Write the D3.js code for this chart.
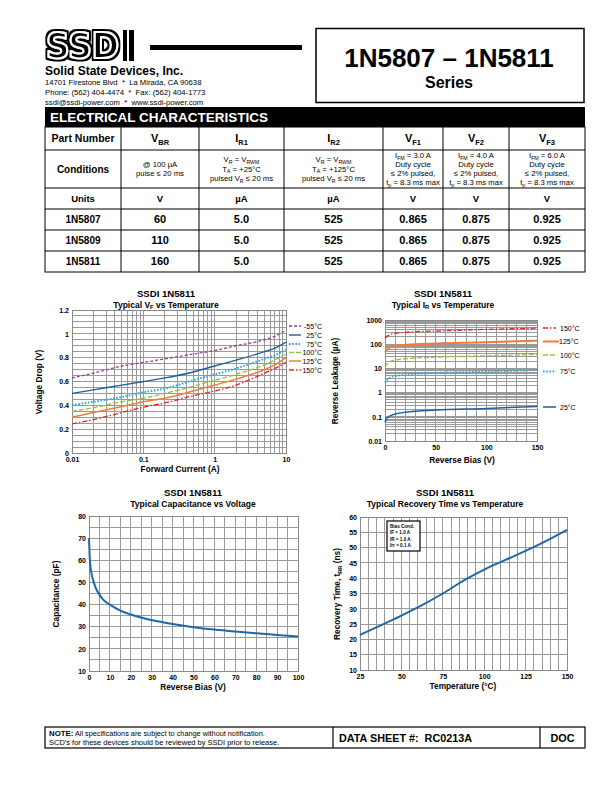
<!DOCTYPE html>
<html><head><meta charset="utf-8">
<script src="https://cdn.jsdelivr.net/npm/d3@7"></script>
<style>body{margin:0;background:#fff}svg{display:block;font-family:"Liberation Sans",Arial,Helvetica,sans-serif}</style>
</head><body><svg id="page" width="612" height="792"></svg>
<script>
// ================= DATA =================
const headerLabels = ["Part Number","V_{BR}","I_{R1}","I_{R2}","V_{F1}","V_{F2}","V_{F3}"];
const conditionLines = [
  ["Conditions"],
  ["@ 100 µA","pulse ≤ 20 ms"],
  ["V_{R} = V_{RWM}","T_{A} = +25°C","pulsed V_{R} ≤ 20 ms"],
  ["V_{R} = V_{RWM}","T_{A} = +125°C","pulsed V_{R} ≤ 20 ms"],
  ["I_{FM} = 3.0 A","Duty cycle","≤ 2% pulsed,","t_{p} = 8.3 ms max"],
  ["I_{FM} = 4.0 A","Duty cycle","≤ 2% pulsed,","t_{p} = 8.3 ms max"],
  ["I_{FM} = 6.0 A","Duty cycle","≤ 2% pulsed,","t_{p} = 8.3 ms max"]
];
const unitLabels = ["Units","V","µA","µA","V","V","V"];
const partNumbers = ["1N5807","1N5809","1N5811"];
const vbrValues = ["60","110","160"];
const ir1Values = ["5.0","5.0","5.0"];
const ir2Values = ["525","525","525"];
const vf1Values = ["0.865","0.865","0.865"];
const vf2Values = ["0.875","0.875","0.875"];
const vf3Values = ["0.925","0.925","0.925"];

// Chart 1: Typical VF vs Temperature
const vfCurrent = [0.01,0.02,0.05,0.1,0.2,0.5,1,2,5,7,10];
const vfM55  = [0.63,0.67,0.73,0.76,0.79,0.83,0.86,0.90,0.95,0.98,1.03];
const vf25   = [0.50,0.53,0.57,0.60,0.63,0.68,0.73,0.78,0.85,0.88,0.93];
const vf75   = [0.40,0.43,0.47,0.51,0.54,0.61,0.66,0.71,0.79,0.82,0.87];
const vf100  = [0.35,0.38,0.43,0.46,0.50,0.56,0.61,0.66,0.74,0.78,0.83];
const vf125  = [0.30,0.34,0.39,0.43,0.46,0.52,0.57,0.62,0.70,0.74,0.80];
const vf150  = [0.245,0.28,0.34,0.385,0.42,0.48,0.52,0.57,0.67,0.71,0.76];
const vfXTicks = [0.01,0.1,1,10];
const vfYTicks = [0,0.2,0.4,0.6,0.8,1,1.2];
const vfLegend = ["-55°C","25°C","75°C","100°C","125°C","150°C"];

// Chart 2: Typical IR vs Temperature
const irBias = [0,2,5,10,20,50,100,150];
const ir150 = [180,210,250,280,310,350,410,460];
const ir125 = [45,60,75,85,95,108,120,140];
const ir100 = [11,15,19,22,25,29,33,38];
const ir75  = [2.5,3.3,4.2,4.8,5.4,6.5,7.3,8.5];
const ir25  = [0.06,0.09,0.11,0.13,0.155,0.19,0.22,0.27];
const irXTicks = [0,50,100,150];
const irYTicks = [0.01,0.1,1,10,100,1000];
const irLegend = ["150°C","125°C","100°C","75°C","25°C"];

// Chart 3: Typical Capacitance vs Voltage
const capBias = [0,0.3,0.7,1,2,3,5,7,10,15,20,30,40,50,60,70,80,90,100];
const capValues = [70,62,57,55,51,48,44.5,42,40,37.3,35.5,33,31.2,29.8,28.7,27.8,27,26.3,25.6];
const capXTicks = [0,10,20,30,40,50,60,70,80,90,100];
const capYTicks = [10,20,30,40,50,60,70,80];

// Chart 4: Typical Recovery Time vs Temperature
const trrTemp = [25,37.5,50,62.5,75,87.5,100,112.5,125,137.5,150];
const trrValues = [21.5,24.6,27.8,31.2,35,39.2,42.8,45.9,48.9,52.2,55.8];
const trrXTicks = [25,50,75,100,125,150];
const trrYTicks = [10,15,20,25,30,35,40,45,50,55,60];
const biasCond = ["Bias Cond.","IF = 1.0 A","IR = 1.0 A","Irr = 0.1 A"];

// ================= DRAWING =================
const svg = d3.select("#page");

function rich(textSel, str, fs) {
  const parts = str.split(/(_\{[^}]*\})/).filter(s => s.length);
  let shifted = false;
  parts.forEach(p => {
    const sub = p.startsWith("_{");
    const ts = textSel.append("tspan").text(sub ? p.slice(2, -1) : p);
    if (sub) { ts.attr("font-size", fs * 0.68); if (!shifted) { ts.attr("dy", fs * 0.22); shifted = true; } }
    else { ts.attr("font-size", fs); if (shifted) { ts.attr("dy", -fs * 0.22); shifted = false; } }
  });
}

// ---- Header / logo ----
const defs = svg.append("defs");
const flt = defs.append("filter").attr("id","logoRing").attr("x","-10%").attr("y","-20%").attr("width","120%").attr("height","140%");
flt.append("feMorphology").attr("in","SourceAlpha").attr("operator","dilate").attr("radius",1.8).attr("result","dil");
flt.append("feFlood").attr("flood-color","#000").attr("result","blk");
flt.append("feComposite").attr("in","blk").attr("in2","dil").attr("operator","in").attr("result","ring");
const fm = flt.append("feMerge");
fm.append("feMergeNode").attr("in","ring");
fm.append("feMergeNode").attr("in","SourceGraphic");
svg.append("text").attr("x",46).attr("y",57.5).attr("font-family","DejaVu Sans").attr("font-weight","bold")
  .attr("font-size",35).attr("textLength",73).attr("lengthAdjust","spacingAndGlyphs")
  .attr("fill","#000").attr("stroke","#fff").attr("stroke-width",2.2).attr("stroke-linejoin","round")
  .attr("filter","url(#logoRing)").text("SSD");
svg.append("rect").attr("x",123).attr("y",30).attr("width",4).attr("height",31).attr("fill","#000");
svg.append("rect").attr("x",129).attr("y",30).attr("width",5).attr("height",31).attr("fill","#000");
svg.append("rect").attr("x",150).attr("y",45).attr("width",152).attr("height",5).attr("fill","#000");
svg.append("text").attr("x",45).attr("y",75).attr("font-size",12).attr("font-weight","bold").text("Solid State Devices, Inc.");
["14701 Firestone Blvd  *  La Mirada, CA 90638","Phone: (562) 404-4474  *  Fax: (562) 404-1773","ssdi@ssdi-power.com  *  www.ssdi-power.com"]
  .forEach((t,i) => svg.append("text").attr("x",45).attr("y",84.5+i*10).attr("font-size",7.7).style("white-space","pre").text(t));

svg.append("rect").attr("x",316).attr("y",28.5).attr("width",268).attr("height",74).attr("fill","none").attr("stroke","#000").attr("stroke-width",1.5);
svg.append("text").attr("x",449).attr("y",67).attr("text-anchor","middle").attr("font-size",26).attr("font-weight","bold").text("1N5807 – 1N5811");
svg.append("text").attr("x",449).attr("y",88).attr("text-anchor","middle").attr("font-size",16).attr("font-weight","bold").text("Series");

// ---- Table ----
const colEdges = [45,121,199,284,383,443,509,585];
const rowEdges = [127,150,188,209,230,251,272];
svg.append("rect").attr("x",45).attr("y",107).attr("width",540).attr("height",20).attr("fill","#000");
svg.append("text").attr("x",50).attr("y",122).attr("fill","#fff").attr("font-size",13.5).attr("font-weight","bold").text("ELECTRICAL CHARACTERISTICS");
const tbl = svg.append("g").attr("stroke","#000").attr("stroke-width",1);
tbl.append("rect").attr("x",45).attr("y",127).attr("width",540).attr("height",145).attr("fill","none");
rowEdges.slice(1,-1).forEach(y => tbl.append("line").attr("x1",45).attr("x2",585).attr("y1",y).attr("y2",y));
colEdges.slice(1,-1).forEach(x => tbl.append("line").attr("x1",x).attr("x2",x).attr("y1",127).attr("y2",272));
const cx = i => (colEdges[i] + colEdges[i+1]) / 2;
const cy = r => (rowEdges[r] + rowEdges[r+1]) / 2;
headerLabels.forEach((h,i) => {
  const t = svg.append("text").attr("x",cx(i)).attr("y",cy(0)+3.8).attr("text-anchor","middle").attr("font-weight","bold");
  rich(t, h, i === 0 ? 10.5 : 11);
});
conditionLines.forEach((lines,i) => {
  const fs = i === 0 ? 10 : 7.7, lh = 9.2;
  lines.forEach((ln,k) => {
    const y = cy(1) - (lines.length-1)*lh/2 + k*lh + fs*0.35;
    const t = svg.append("text").attr("x",cx(i)).attr("y",y).attr("text-anchor","middle").attr("font-weight", i===0 ? "bold" : "normal");
    rich(t, ln, fs);
  });
});
unitLabels.forEach((u,i) => svg.append("text").attr("x",cx(i)).attr("y",cy(2)+3.3).attr("text-anchor","middle")
  .attr("font-size",9.5).attr("font-weight","bold").text(u));
const valueCols = [partNumbers, vbrValues, ir1Values, ir2Values, vf1Values, vf2Values, vf3Values];
valueCols.forEach((col,i) => col.forEach((v,r) => svg.append("text").attr("x",cx(i)).attr("y",cy(3+r)+3.8)
  .attr("text-anchor","middle").attr("font-size", i===0 ? 10 : 11).attr("font-weight","bold").text(v)));

// ---- generic chart helpers ----
function chartFrame(box, xs, ys, xGrid, yGrid) {
  const g = svg.append("g");
  g.append("rect").attr("x",box.l).attr("y",box.t).attr("width",box.r-box.l).attr("height",box.b-box.t).attr("fill","#fff");
  const gg = g.append("g").attr("stroke","#9a9a9a").attr("stroke-width",1).attr("shape-rendering","crispEdges");
  xGrid.forEach(v => gg.append("line").attr("x1",xs(v)).attr("x2",xs(v)).attr("y1",box.t).attr("y2",box.b));
  yGrid.forEach(v => gg.append("line").attr("y1",ys(v)).attr("y2",ys(v)).attr("x1",box.l).attr("x2",box.r));
  g.append("rect").attr("x",box.l).attr("y",box.t).attr("width",box.r-box.l).attr("height",box.b-box.t)
    .attr("fill","none").attr("stroke","#8a8a8a").attr("stroke-width",1).attr("shape-rendering","crispEdges");
  return g;
}
function axes(box, xs, ys, xTicks, yTicks, fmtX, fmtY) {
  const ax = svg.append("g").attr("transform",`translate(0,${box.b})`)
    .call(d3.axisBottom(xs).tickValues(xTicks).tickSize(0).tickPadding(4).tickFormat(fmtX));
  const ay = svg.append("g").attr("transform",`translate(${box.l},0)`)
    .call(d3.axisLeft(ys).tickValues(yTicks).tickSize(0).tickPadding(3).tickFormat(fmtY));
  [ax,ay].forEach(a => { a.select(".domain").remove();
    a.selectAll("text").attr("font-family","Liberation Sans, Arial, sans-serif").attr("font-size",7).attr("font-weight","bold").attr("fill","#000"); });
}
function titles(x, y, sub) {
  svg.append("text").attr("x",x).attr("y",y).attr("text-anchor","middle").attr("font-size",9.6).attr("font-weight","bold").text("SSDI 1N5811");
  const t = svg.append("text").attr("x",x).attr("y",y+10.5).attr("text-anchor","middle").attr("font-weight","bold");
  rich(t, sub, 8.5);
}
function axisLabels(xText, xx, xy, yText, yx, yy) {
  svg.append("text").attr("x",xx).attr("y",xy).attr("text-anchor","middle").attr("font-size",8.3).attr("font-weight","bold").text(xText);
  const t = svg.append("text").attr("transform",`translate(${yx},${yy}) rotate(-90)`).attr("text-anchor","middle").attr("font-weight","bold");
  rich(t, yText, 8.3);
}
function curve(xs, ys, xv, yv, color, width, dash, curveType) {
  svg.append("path").datum(xv.map((x,i) => [x, yv[i]]))
    .attr("d", d3.line().x(d => xs(d[0])).y(d => ys(d[1])).curve(curveType || d3.curveMonotoneX))
    .attr("fill","none").attr("stroke",color).attr("stroke-width",width).attr("stroke-dasharray",dash || null);
}

// ---- Chart 1 ----
const b1 = {l:72, r:286, t:310, b:453};
const x1 = d3.scaleLog().domain([0.01,10]).range([b1.l,b1.r]);
const y1 = d3.scaleLinear().domain([0,1.2]).range([b1.b,b1.t]);
chartFrame(b1, x1, y1, x1.ticks(), d3.range(0,1.2001,0.05));
axes(b1, x1, y1, vfXTicks, vfYTicks, d => String(d), d => String(d));
titles(166, 297, "Typical V_{F}  vs Temperature");
axisLabels("Forward Current (A)", 180, 472, "Voltage Drop (V)", 42, 382);
const vfStyles = [
  {v:vfM55, c:"#9c3d97", w:1.3, d:"3,2"},
  {v:vf25,  c:"#1e5f9c", w:1.4, d:null},
  {v:vf75,  c:"#29a9e1", w:2,   d:"1.6,1.6"},
  {v:vf100, c:"#8dc63f", w:1.3, d:"5,2"},
  {v:vf125, c:"#f47a3a", w:1.5, d:null},
  {v:vf150, c:"#e2232a", w:1.3, d:"5,2,1.5,2"}
];
vfStyles.forEach(s => curve(x1, y1, vfCurrent, s.v, s.c, s.w, s.d));
const leg1Y = [326,335,344,352.5,361,370];
vfStyles.forEach((s,i) => {
  svg.append("line").attr("x1",289).attr("x2",301).attr("y1",leg1Y[i]).attr("y2",leg1Y[i]).attr("stroke",s.c).attr("stroke-width",s.w).attr("stroke-dasharray",s.d);
  svg.append("text").attr("x",322).attr("y",leg1Y[i]+2.5).attr("text-anchor","end").attr("font-size",7).text(vfLegend[i]);
});

// ---- Chart 2 ----
const b2 = {l:385, r:537, t:320, b:441};
const x2 = d3.scaleLinear().domain([0,150]).range([b2.l,b2.r]);
const y2 = d3.scaleLog().domain([0.01,1000]).range([b2.b,b2.t]);
chartFrame(b2, x2, y2, d3.range(0,151,10), y2.ticks());
axes(b2, x2, y2, irXTicks, irYTicks, d => String(d), d => String(d));
titles(443, 297, "Typical I_{R} vs Temperature");
axisLabels("Reverse Bias (V)", 462, 463, "Reverse Leakage (µA)", 338, 381);
const irStyles = [
  {v:ir150, c:"#e2232a", w:1.3, d:"5,2,1.5,2"},
  {v:ir125, c:"#f47a3a", w:2,   d:null},
  {v:ir100, c:"#8dc63f", w:1.3, d:"5,2"},
  {v:ir75,  c:"#29a9e1", w:1.8, d:"1.6,1.6"},
  {v:ir25,  c:"#1e5f9c", w:1.5, d:null}
];
irStyles.forEach(s => curve(x2, y2, irBias, s.v, s.c, s.w, s.d));
const leg2Y = [328,341.5,355,371.5,407];
irStyles.forEach((s,i) => {
  svg.append("line").attr("x1",543).attr("x2",i===1?559:556).attr("y1",leg2Y[i]).attr("y2",leg2Y[i]).attr("stroke",s.c).attr("stroke-width",s.w).attr("stroke-dasharray",s.d);
  svg.append("text").attr("x",i===1?559:560).attr("y",leg2Y[i]+2.5).attr("font-size",7).text(irLegend[i]);
});

// ---- Chart 3 ----
const b3 = {l:89, r:298, t:516, b:671};
const x3 = d3.scaleLinear().domain([0,100]).range([b3.l,b3.r]);
const y3 = d3.scaleLinear().domain([10,80]).range([b3.b,b3.t]);
chartFrame(b3, x3, y3, d3.range(0,101,5), d3.range(10,81,5));
axes(b3, x3, y3, capXTicks, capYTicks, d => String(d), d => String(d));
titles(193, 496, "Typical Capacitance vs Voltage");
axisLabels("Reverse Bias (V)", 193, 690, "Capacitance (pF)", 59, 594);
curve(x3, y3, capBias, capValues, "#1f68a8", 2, null);

// ---- Chart 4 ----
const b4 = {l:360, r:567, t:517, b:670};
const x4 = d3.scaleLinear().domain([25,150]).range([b4.l,b4.r]);
const y4 = d3.scaleLinear().domain([10,60]).range([b4.b,b4.t]);
chartFrame(b4, x4, y4, d3.range(25,151,5), d3.range(10,61,5));
axes(b4, x4, y4, trrXTicks, trrYTicks, d => String(d), d => String(d));
titles(445, 496, "Typical Recovery Time vs Temperature");
axisLabels("Temperature (°C)", 463, 689, "Recovery Time, t_{RR} (ns)", 340, 594);
curve(x4, y4, trrTemp, trrValues, "#1f68a8", 2, null);
svg.append("rect").attr("x",387).attr("y",521).attr("width",33).attr("height",30).attr("fill","#fff").attr("stroke","#000").attr("stroke-width",1.2);
biasCond.forEach((t,i) => svg.append("text").attr("x",390).attr("y",528+i*6.3).attr("font-size",4.6).attr("font-weight","bold").text(t));

// ---- Footer ----
const ft = svg.append("g").attr("stroke","#000").attr("stroke-width",1.2).attr("fill","none");
ft.append("rect").attr("x",45).attr("y",727).attr("width",540).attr("height",21);
ft.append("line").attr("x1",333).attr("x2",333).attr("y1",727).attr("y2",748);
ft.append("line").attr("x1",540).attr("x2",540).attr("y1",727).attr("y2",748);
const n1 = svg.append("text").attr("x",49).attr("y",735.5).attr("font-size",7.3);
n1.append("tspan").attr("font-weight","bold").attr("font-size",7.8).text("NOTE:");
n1.append("tspan").text("  All specifications are subject to change without notification.");
svg.append("text").attr("x",49).attr("y",745.3).attr("font-size",7.5).text("SCD's for these devices should be reviewed by SSDI prior to release.");
svg.append("text").attr("x",339).attr("y",741.5).attr("font-size",10.8).attr("font-weight","bold").style("white-space","pre").text("DATA SHEET #:  RC0213A");
svg.append("text").attr("x",562.5).attr("y",741.5).attr("text-anchor","middle").attr("font-size",10.8).attr("font-weight","bold").text("DOC");
</script></body></html>
